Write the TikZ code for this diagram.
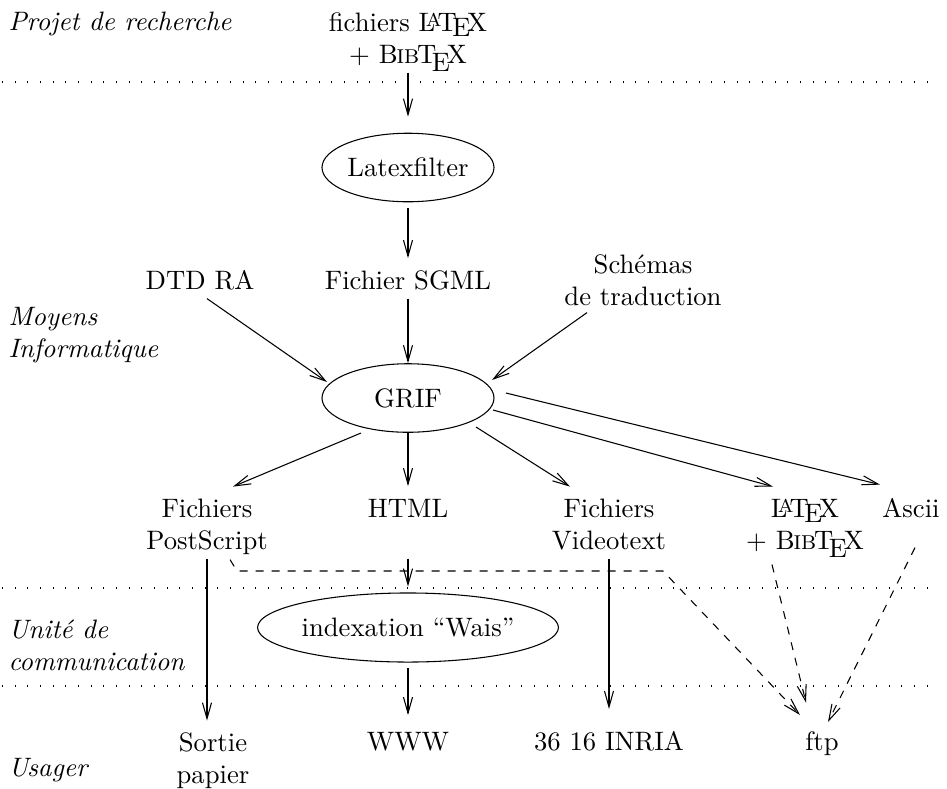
\documentclass[tikz,border=0pt]{standalone}
\usetikzlibrary{shapes.geometric,arrows.meta,calc}
\newcommand\BibTeXlogo{B\kern-.05em\textsc{i\kern-.025em b}\kern-.08em T\kern-.1667em\lower.7ex\hbox{E}\kern-.125em X}
\newcommand\twol[2]{\begin{tabular}[t]{@{}c@{}}#1\\#2\end{tabular}}
\begin{document}
\begin{tikzpicture}[x=0.375pt,y=-0.375pt,
  line width=0.4pt,
  arr/.style={-{Straight Barb[length=6pt,width=3.4pt]}},
  dasharr/.style={arr, dash pattern=on 3pt off 3pt},
  sepline/.style={dash pattern=on 0.4pt off 4.35pt},
  txt/.style={anchor=base, inner sep=0pt, outer sep=0pt},
  lab/.style={anchor=base west, inner sep=0pt, font=\itshape},
  oval/.style={ellipse, draw, inner sep=0pt, minimum width=64.5pt, minimum height=25.7pt}]
\useasboundingbox (0,0) rectangle (947,788);

% zone labels
\node[lab] (l1) at (8,30) {Projet de recherche};
\node[lab] (l2a) at (8,325) {Moyens};
\node[lab] (l2b) at (8,357) {Informatique};
\node[lab] (l3a) at (8,638) {Unité de};
\node[lab] (l3b) at (8,670) {communication};
\node[lab] (l4) at (8,776) {Usager};

% zone separators
\draw[sepline] (2,82) -- (928,82);
\draw[sepline] (2,588) -- (928,588);
\draw[sepline] (2,686) -- (928,686);

% nodes
\node[txt] (src) at (408,31) {\twol{fichiers \LaTeX}{+ \BibTeXlogo}};
\node[oval] (lf) at (408,167.5) {Latexfilter};
\node[txt] (dtd) at (200,289) {\strut DTD RA};
\node[txt] (sgml) at (408,289) {\strut Fichier SGML};
\node[txt] (sch) at (643,273) {\twol{Schémas}{de traduction}};
\node[oval] (grif) at (408,398) {GRIF};
\node[txt] (ps) at (207,517) {\twol{Fichiers}{PostScript}};
\node[txt] (html) at (408,517) {\strut HTML};
\node[txt] (vt) at (609,517) {\twol{Fichiers}{Videotext}};
\node[txt] (ltx) at (805,517) {\twol{\LaTeX}{+ \BibTeXlogo}};
\node[txt] (asc) at (911,517) {\strut Ascii};
\node[oval, minimum width=94.5pt, minimum height=25.9pt] (wais) at (408,627.5) {indexation ``Wais''};
\node[txt] (sortie) at (213,751) {\twol{Sortie}{papier}};
\node[txt] (www) at (408,750) {\strut WWW};
\node[txt] (inria) at (609,750) {\strut 36 16 INRIA};
\node[txt] (ftp) at (822,750) {\strut ftp};

\coordinate (d1) at (237,571);
\coordinate (d2) at (663,571);

% connectors
\draw[arr, shorten >=6pt] (src.south) -- (lf.north);
\draw[arr, shorten <=2.2pt, shorten >=3.2pt] (lf.south) -- (sgml.north);
\draw[arr] ($(dtd.south)+(7,0)$) -- ($(grif.center)+(-81,-16)$);
\draw[arr] (sgml.south) -- (grif.north);
\draw[arr] ($(sch.south)+(-56,-2)$) -- ($(grif.center)+(84,-18)$);
\draw[arr] ($(grif.center)+(-47,35)$) -- ($(ps.north)+(26,-8)$);
\draw[arr, shorten >=3.2pt] (grif.south) -- (html.north);
\draw[arr] ($(grif.center)+(68,29)$) -- ($(vt.north)+(-39,-8)$);
\draw[arr] ($(grif.center)+(85,12)$) -- ($(ltx.north)+(-32,-8)$);
\draw[arr] ($(grif.center)+(98,-5)$) -- ($(asc.north)+(-31,-10)$);
\draw[arr] (ps.south) -- ($(sortie.north)+(-6,-8)$);
\draw[arr, shorten <=12pt, shorten >=2.2pt] (html.south) -- (wais.north);
\draw[arr, shorten <=2pt, shorten >=4.7pt] (wais.south) -- (www.north);
\draw[arr, shorten >=7pt] (vt.south) -- (inria.north);
\draw[dasharr] ($(ps.south)+(23,1)$) -- (d1) -- (d2) -- ($(ftp.north)+(-22,-12.6)$);
\draw[dasharr] ($(ltx.south)+(-33,6)$) -- ($(ftp.north)+(-16,-25)$);
\draw[dasharr] ($(asc.south)+(4,21)$) -- ($(ftp.north)+(6,-5.6)$);
\end{tikzpicture}
\end{document}
